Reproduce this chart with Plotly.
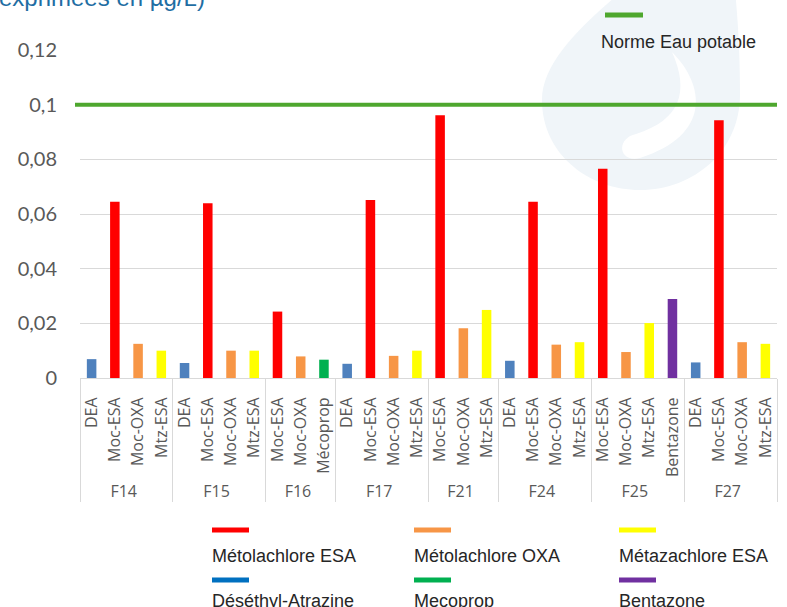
import plotly.graph_objects as go

# ---------------- data ----------------
SITES = ["F14", "F14", "F14", "F14",
         "F15", "F15", "F15", "F15",
         "F16", "F16", "F16",
         "F17", "F17", "F17", "F17",
         "F21", "F21", "F21",
         "F24", "F24", "F24", "F24",
         "F25", "F25", "F25", "F25",
         "F27", "F27", "F27", "F27"]
COMPOUNDS = ["DEA", "Moc-ESA", "Moc-OXA", "Mtz-ESA",
             "DEA", "Moc-ESA", "Moc-OXA", "Mtz-ESA",
             "Moc-ESA", "Moc-OXA", "Mécoprop",
             "DEA", "Moc-ESA", "Moc-OXA", "Mtz-ESA",
             "Moc-ESA", "Moc-OXA", "Mtz-ESA",
             "DEA", "Moc-ESA", "Moc-OXA", "Mtz-ESA",
             "Moc-ESA", "Moc-OXA", "Mtz-ESA", "Bentazone",
             "DEA", "Moc-ESA", "Moc-OXA", "Mtz-ESA"]
VALUES = [0.0069, 0.0645, 0.0125, 0.0100,
          0.0055, 0.0639, 0.0100, 0.0100,
          0.0243, 0.0079, 0.0067,
          0.0052, 0.0651, 0.0081, 0.0100,
          0.0961, 0.0182, 0.0249,
          0.0063, 0.0645, 0.0122, 0.0131,
          0.0766, 0.0095, 0.0201, 0.0289,
          0.0057, 0.0943, 0.0131, 0.0125]
NORME = 0.1
NORME_LABEL = "Norme Eau potable"
LEGEND_LABELS = ["Métolachlore ESA", "Métolachlore OXA", "Métazachlore ESA",
                 "Déséthyl-Atrazine", "Mecoprop", "Bentazone"]
TITLE_TEXT = "exprimées en µg/L)"

# ---------------- styles ----------------
BAR_COLORS = {"DEA": "#4f81bd", "Moc-ESA": "#ff0000", "Moc-OXA": "#f79646",
              "Mtz-ESA": "#ffff00", "Mécoprop": "#00b050", "Bentazone": "#7030a0"}
LEGEND_COLORS = ["#ff0000", "#f79646", "#ffff00", "#0070c0", "#00b050", "#7030a0"]
GREEN = "#4ea72e"
GRID = "#d9d9d9"
TXT = "#595959"

W, H = 787, 607
L, R, T, B = 80, 10, 50, 229
PW, PH = W - L - R, H - T - B


def px(X):
    return (X - L) / PW


def py(Y):
    return (H - B - Y) / PH


fig = go.Figure()
fig.add_trace(go.Bar(
    x=[SITES, COMPOUNDS], y=VALUES,
    marker=dict(color=[BAR_COLORS[c] for c in COMPOUNDS], line=dict(width=0)),
    showlegend=False, hoverinfo="x+y",
))

shapes = []


def P(X, Y):
    return f"{px(X):.5f},{py(Y):.5f}"


# water-drop watermark
drop = (f"M {P(722,-95)} C {P(660,-30)} {P(542,35)} {P(542,100)} "
        f"C {P(542,155)} {P(590,190)} {P(640,190)} "
        f"C {P(695,190)} {P(740,150)} {P(740,95)} "
        f"C {P(740,40)} {P(736,-30)} {P(722,-95)} Z")
shapes.append(dict(type="path", path=drop, xref="paper", yref="paper",
                   fillcolor="#f0f5f9", line=dict(width=0), layer="below"))
hl = (f"M {P(672,52)} C {P(705,85)} {P(712,135)} {P(640,158)} "
      f"C {P(618,163)} {P(616,138)} {P(636,134)} "
      f"C {P(680,120)} {P(690,92)} {P(672,52)} Z")
shapes.append(dict(type="path", path=hl, xref="paper", yref="paper",
                   fillcolor="#ffffff", line=dict(width=0), layer="below"))

# norme line
shapes.append(dict(type="line", xref="paper", yref="y", x0=px(75), x1=1.0,
                   y0=NORME, y1=NORME, line=dict(color=GREEN, width=4)))

annotations = []
# norme legend entry
shapes.append(dict(type="line", xref="paper", yref="paper", x0=px(605), x1=px(643),
                   y0=py(15), y1=py(15), line=dict(color=GREEN, width=5)))
annotations.append(dict(text=NORME_LABEL, xref="paper", yref="paper", x=px(599), y=py(42),
                        xanchor="left", yanchor="middle", showarrow=False,
                        font=dict(family="Liberation Sans", size=18, color="#262626")))

# bottom legend
cols = [212, 414, 619]
rows = [(530, 556), (580, 601)]
for i, (lab, col) in enumerate(zip(LEGEND_LABELS, LEGEND_COLORS)):
    cx = cols[i % 3]
    sy, ty = rows[i // 3]
    shapes.append(dict(type="line", xref="paper", yref="paper", x0=px(cx), x1=px(cx + 37),
                       y0=py(sy), y1=py(sy), line=dict(color=col, width=5)))
    annotations.append(dict(text=lab, xref="paper", yref="paper", x=px(cx - 2), y=py(ty),
                            xanchor="left", yanchor="middle", showarrow=False,
                            font=dict(family="Liberation Sans", size=18, color="#262626")))

# cut-off title
annotations.append(dict(text=TITLE_TEXT, xref="paper", yref="paper", x=px(-3), y=py(13),
                        xanchor="left", yanchor="bottom", showarrow=False,
                        font=dict(family="Liberation Sans", size=24, color="#1f6ea3")))

fig.update_layout(
    width=W, height=H,
    margin=dict(l=L, r=R, t=T, b=B, autoexpand=False),
    paper_bgcolor="white", plot_bgcolor="rgba(0,0,0,0)",
    separators=", ",
    bargap=0.59,
    shapes=shapes, annotations=annotations,
    font=dict(family="Lato", color=TXT),
)
fig.update_xaxes(
    type="multicategory", tickangle=-90, tickfont=dict(family="Open Sans", size=16, color=TXT),
    showline=True, linecolor=GRID, linewidth=1, showgrid=False,
    showdividers=True, dividercolor=GRID, dividerwidth=1,
    ticks="", automargin=False, ticklabelstandoff=12,
)
fig.update_yaxes(
    range=[0, 0.12], dtick=0.02, tick0=0, showgrid=True, gridcolor=GRID, gridwidth=1,
    zeroline=False, showline=False, ticks="",
    tickfont=dict(family="Lato", size=20, color=TXT), ticklabelstandoff=22,
    automargin=False,
)

fig.write_html("out.html", config={"displayModeBar": False},
               post_script="document.body.style.margin='0';document.body.style.overflow='hidden';")
